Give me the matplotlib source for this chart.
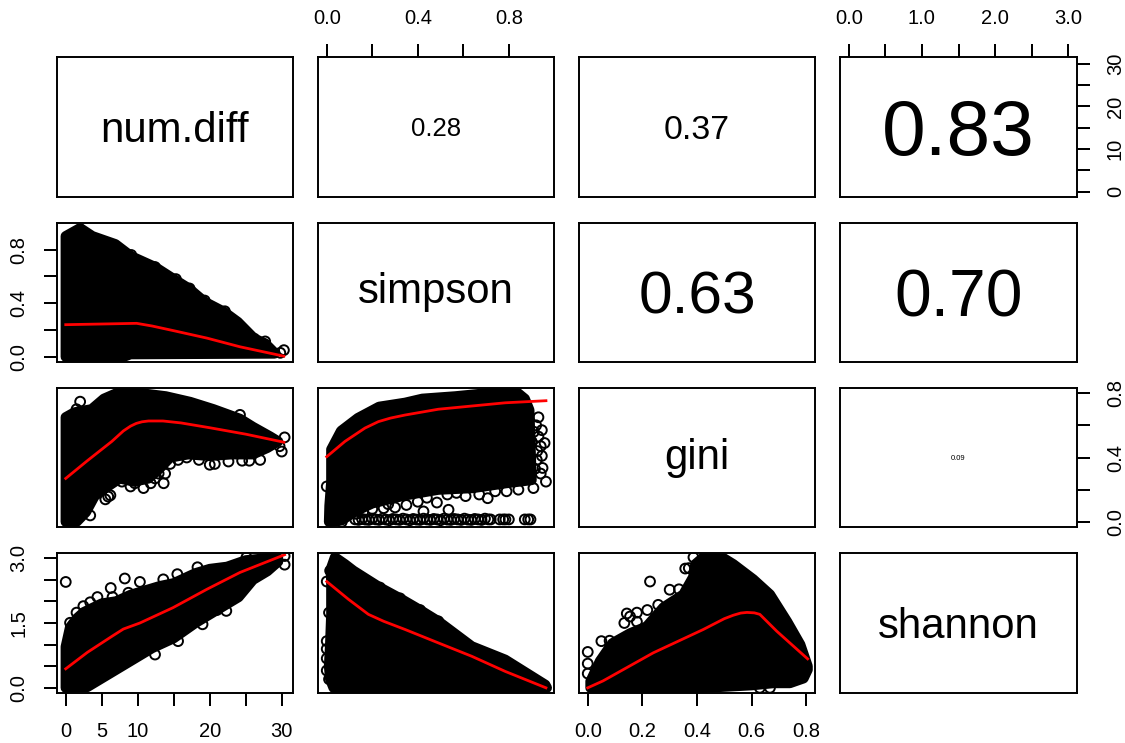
import matplotlib
matplotlib.use("Agg")
import matplotlib.pyplot as plt

plt.rcParams['font.family'] = ['Liberation Sans', 'DejaVu Sans']

W, H = 1125, 743
variables = ["num.diff", "simpson", "gini", "shannon"]
var_max = [30.35, 0.96, 0.80, 3.0]
label_sizes = [30.2, 30.2, 30.2, 30.2]
label_valign = ["center_baseline", "center", "center", "center_baseline"]

col_left = [57, 318, 579, 840]
col_right = [293, 554, 815, 1077]
row_top = [57, 223, 388, 553]
row_bottom = [197, 362, 527, 693]

corr_values = {(0, 1): "0.28", (0, 2): "0.37", (0, 3): "0.83",
               (1, 2): "0.63", (1, 3): "0.70", (2, 3): "0.09"}
corr_sizes = {(0, 1): 18.5, (0, 2): 24.4, (0, 3): 56.5,
              (1, 2): 43.5, (1, 3): 47.5, (2, 3): 5.5}

# simpson vs num.diff
sn_x = [0, 2, 3.7, 6.9, 9.1, 12.4, 15.3, 17.1, 19.3, 22, 23.9, 26.2, 27.7, 29, 29, 9, 8, 0]
sn_y = [0.90, 0.96, 0.90, 0.84, 0.75, 0.67, 0.57, 0.51, 0.41, 0.335, 0.26, 0.135, 0.10, 0.03, 0.025, 0.02, 0.0, 0.0]
sn_out_x = [0.4, 2.0, 9.1, 12.4, 15.3, 17.2, 19.3, 22.1, 26.2, 27.7, 30.3, 29.8]
sn_out_y = [0.88, 0.95, 0.76, 0.67, 0.58, 0.51, 0.42, 0.34, 0.135, 0.115, 0.05, 0.03]
sn_red_x = [0, 5, 9.85, 12, 15, 19.6, 24.2, 30.3]
sn_red_y = [0.24, 0.245, 0.25, 0.23, 0.195, 0.14, 0.075, 0.005]

# gini vs num.diff
gn_x = [0, 1.2, 3.6, 5.3, 7.1, 10.3, 13.9, 17.3, 20.5, 24.2, 26, 28.4, 29.5, 28, 26, 23, 20, 17, 14.5, 13, 11.5, 9.5, 7.5, 5.5, 4.0, 2.8, 1.5, 0]
gn_y = [0.65, 0.68, 0.70, 0.765, 0.80, 0.80, 0.78, 0.745, 0.70, 0.64, 0.59, 0.53, 0.50, 0.46, 0.42, 0.42, 0.41, 0.42, 0.40, 0.33, 0.27, 0.25, 0.27, 0.21, 0.16, 0.06, 0.0, 0.0]
gn_out_x = [5.9, 5.5, 6.2, 7.8, 9.6, 10.8, 11.8, 13.6, 13.8, 12.9, 15.6, 18.5, 20, 20.7, 22.6, 24.5, 25.5, 27, 30, 29.7, 30.4, 24.2, 2, 3.4, 1.5, 12.4, 9.0, 14.5, 16.8]
gn_out_y = [0.157, 0.14, 0.165, 0.25, 0.24, 0.21, 0.24, 0.24, 0.30, 0.30, 0.385, 0.385, 0.355, 0.36, 0.375, 0.38, 0.38, 0.385, 0.437, 0.47, 0.525, 0.665, 0.747, 0.04, 0.70, 0.27, 0.22, 0.36, 0.40]
gn_red_x = [0, 3, 6.4, 8, 9, 9.8, 10.6, 11.5, 13.5, 16, 20, 25, 30.3]
gn_red_y = [0.27, 0.38, 0.50, 0.565, 0.595, 0.612, 0.622, 0.627, 0.627, 0.615, 0.585, 0.545, 0.495]

# gini vs simpson
gs_x = [0.02, 0.063, 0.137, 0.23, 0.344, 0.42, 0.565, 0.71, 0.84, 0.87, 0.89, 0.90, 0.785, 0.64, 0.49, 0.345, 0.2, 0.125, 0.066, 0.01, 0.012, 0.02]
gs_y = [0.45, 0.565, 0.645, 0.715, 0.74, 0.765, 0.78, 0.80, 0.80, 0.765, 0.695, 0.26, 0.24, 0.21, 0.2, 0.165, 0.115, 0.065, 0.01, 0.0, 0.1, 0.25]
gs_out_x = [0.0, 0.93, 0.92, 0.945, 0.957, 0.94, 0.923, 0.948, 0.94, 0.963, 0.908, 0.842, 0.79, 0.74, 0.707, 0.67, 0.61, 0.57, 0.53, 0.484, 0.44, 0.40, 0.35, 0.30, 0.27, 0.25, 0.20, 0.16, 0.13, 0.066, 0.535, 0.425, 0.9, 0.91, 0.93, 0.915, 0.925, 0.945]
gs_out_y = [0.22, 0.65, 0.60, 0.57, 0.49, 0.47, 0.385, 0.335, 0.30, 0.25, 0.21, 0.20, 0.19, 0.19, 0.147, 0.17, 0.16, 0.18, 0.17, 0.12, 0.15, 0.125, 0.105, 0.09, 0.11, 0.085, 0.08, 0.06, 0.05, 0.0, 0.075, 0.065, 0.50, 0.56, 0.53, 0.33, 0.44, 0.41]
gs_row_x = [0.125, 0.14, 0.155, 0.17, 0.185, 0.2, 0.215, 0.23, 0.245, 0.26, 0.275, 0.29, 0.305, 0.32, 0.335, 0.35, 0.365, 0.38, 0.395, 0.41, 0.425, 0.44, 0.455, 0.47, 0.485, 0.5, 0.515, 0.53, 0.545, 0.56, 0.575, 0.59, 0.605, 0.62, 0.635, 0.65, 0.665, 0.68, 0.695, 0.71, 0.72, 0.76, 0.775, 0.785, 0.80, 0.87, 0.885, 0.895]
gs_row_y = [0.015, 0.012, 0.018, 0.014, 0.012, 0.02, 0.015, 0.012, 0.02, 0.014, 0.01, 0.018, 0.015, 0.012, 0.02, 0.015, 0.01, 0.018, 0.014, 0.012, 0.02, 0.015, 0.012, 0.018, 0.015, 0.01, 0.02, 0.014, 0.012, 0.018, 0.015, 0.012, 0.02, 0.014, 0.012, 0.018, 0.015, 0.012, 0.02, 0.015, 0.015, 0.015, 0.015, 0.015, 0.015, 0.015, 0.015, 0.015]
gs_red_x = [0, 0.08, 0.168, 0.227, 0.28, 0.344, 0.49, 0.637, 0.784, 0.963]
gs_red_y = [0.405, 0.50, 0.583, 0.623, 0.645, 0.664, 0.70, 0.72, 0.74, 0.753]

# shannon vs num.diff
hn_x = [0, 0.6, 1.5, 2.5, 5, 7, 9, 11, 13, 15, 18, 20, 22.4, 25, 28, 29.5, 29.5, 28, 26, 24, 21, 18, 15, 12, 10, 5.5, 3, 0]
hn_y = [0.95, 1.4, 1.6, 1.75, 1.95, 2.0, 2.15, 2.25, 2.35, 2.42, 2.65, 2.75, 2.8, 2.95, 3.0, 3.0, 2.92, 2.7, 2.5, 2.1, 1.8, 1.5, 1.15, 0.92, 0.72, 0.27, 0.02, 0]
hn_out_x = [0, 4.4, 3.4, 6.25, 6.5, 8.2, 8.7, 10.3, 13.55, 15.5, 18.3, 22.3, 21, 19, 15.6, 12.4, 0.6, 1.5, 2.45, 25.1, 28.5, 30.4, 30.4]
hn_out_y = [2.45, 2.10, 1.98, 2.31, 2.1, 2.53, 2.2, 2.45, 2.51, 2.63, 2.79, 1.78, 1.8, 1.47, 1.08, 0.77, 1.505, 1.74, 1.89, 3.02, 3.0, 3.05, 2.85]
hn_red_x = [0, 3, 6.4, 8, 10.3, 14.9, 19.6, 24.2, 30.4]
hn_red_y = [0.44, 0.82, 1.19, 1.36, 1.50, 1.855, 2.28, 2.67, 3.08]

# shannon vs simpson
hs_x = [0.036, 0.08, 0.117, 0.234, 0.322, 0.41, 0.49, 0.637, 0.784, 0.96, 0.967, 0.03, 0.015, 0.01, 0.015, 0.02, 0.02, 0.018]
hs_y = [3.02, 2.86, 2.71, 2.32, 2.07, 1.8, 1.54, 0.96, 0.65, 0.07, 0.0, 0.0, 0.2, 0.5, 1.0, 1.7, 2.4, 2.75]
hs_out_x = [0.0, 0.015, 0.01, 0.0, 0.0, 0.0, 0.0, 0.01, 0.234, 0.322, 0.41, 0.49]
hs_out_y = [2.46, 2.71, 1.74, 1.08, 0.90, 0.68, 0.40, 0.2, 2.32, 2.07, 1.8, 1.54]
hs_red_x = [0, 0.095, 0.183, 0.25, 0.344, 0.49, 0.637, 0.784, 0.963]
hs_red_y = [2.46, 2.05, 1.70, 1.54, 1.35, 1.04, 0.73, 0.38, 0.0]

# shannon vs gini
hg_x = [0.01, 0.045, 0.09, 0.155, 0.216, 0.277, 0.35, 0.386, 0.394, 0.423, 0.497, 0.533, 0.606, 0.667, 0.73, 0.778, 0.805, 0.805, 0.79, 0.74, 0.68, 0.6, 0.42, 0.18, 0.01]
hg_y = [0.15, 0.62, 1.03, 1.26, 1.42, 1.86, 2.16, 2.56, 2.86, 3.02, 3.0, 2.86, 2.51, 2.16, 1.53, 1.0, 0.5, 0.42, 0.22, 0.11, 0.11, 0.06, 0.0, 0.0, 0.0]
hg_out_x = [0, 0, 0, 0.05, 0.08, 0.134, 0.143, 0.18, 0.18, 0.155, 0.218, 0.258, 0.228, 0.30, 0.334, 0.357, 0.37, 0.387, 0.08, 0.106, 0.136, 0.667, 0.63]
hg_out_y = [0.83, 0.56, 0.33, 1.08, 1.09, 1.5, 1.72, 1.74, 1.53, 1.65, 1.8, 1.92, 2.46, 2.27, 2.28, 2.76, 2.77, 3.02, 0.03, 0.03, 0.03, 0.0, 0.0]
hg_red_x = [0, 0.056, 0.24, 0.423, 0.50, 0.533, 0.56, 0.583, 0.61, 0.63, 0.692, 0.805]
hg_red_y = [0, 0.16, 0.81, 1.35, 1.60, 1.68, 1.73, 1.745, 1.735, 1.70, 1.31, 0.67]

lower_panels = {
    (1, 0): (sn_x, sn_y, sn_out_x, sn_out_y, sn_red_x, sn_red_y),
    (2, 0): (gn_x, gn_y, gn_out_x, gn_out_y, gn_red_x, gn_red_y),
    (2, 1): (gs_x, gs_y, gs_out_x + gs_row_x, gs_out_y + gs_row_y, gs_red_x, gs_red_y),
    (3, 0): (hn_x, hn_y, hn_out_x, hn_out_y, hn_red_x, hn_red_y),
    (3, 1): (hs_x, hs_y, hs_out_x, hs_out_y, hs_red_x, hs_red_y),
    (3, 2): (hg_x, hg_y, hg_out_x, hg_out_y, hg_red_x, hg_red_y),
}

ticks_nd = [0, 5, 10, 15, 20, 25, 30]
ticks_sg = [0.0, 0.2, 0.4, 0.6, 0.8]
ticks_sh = [0.0, 0.5, 1.0, 1.5, 2.0, 2.5, 3.0]

bottom_axes = {
    0: (ticks_nd, ["0", "5", "10", "", "20", "", "30"]),
    2: (ticks_sg, ["0.0", "0.2", "0.4", "0.6", "0.8"]),
}
top_axes = {
    1: (ticks_sg, ["0.0", "", "0.4", "", "0.8"]),
    3: (ticks_sh, ["0.0", "", "1.0", "", "2.0", "", "3.0"]),
}
left_axes = {
    1: (ticks_sg, ["0.0", "", "0.4", "", "0.8"]),
    3: (ticks_sh, ["0.0", "", "", "1.5", "", "", "3.0"]),
}
right_axes = {
    0: (ticks_nd, ["0", "", "10", "", "20", "", "30"]),
    2: (ticks_sg, ["0.0", "", "0.4", "", "0.8"]),
}

PX = 72 / 100
fig = plt.figure(figsize=(W / 100, H / 100), dpi=100)
TICK_LEN = 13 * PX
TICK_W = 2 * PX
PAD = 16 * PX
FS = 14.5

for r in range(4):
    for c in range(4):
        ax = fig.add_axes([col_left[c] / W, 1 - row_bottom[r] / H,
                           (col_right[c] - col_left[c]) / W,
                           (row_bottom[r] - row_top[r]) / H])
        xpad = var_max[c] * 0.04
        ypad = var_max[r] * 0.04
        ax.set_xlim(-xpad, var_max[c] + xpad)
        ax.set_ylim(-ypad, var_max[r] + ypad)
        for s in ax.spines.values():
            s.set_linewidth(1.4)
            s.set_zorder(5)
        ax.set_xticks([])
        ax.set_yticks([])

        if r == c:
            ax.text(0.5, 0.5, variables[r], transform=ax.transAxes, ha="center",
                    va=label_valign[r], fontsize=label_sizes[r])
        elif r < c:
            ax.text(0.5, 0.5, corr_values[(r, c)], transform=ax.transAxes, ha="center",
                    va="center_baseline", fontsize=corr_sizes[(r, c)])
        else:
            px, py, ox, oy, rx, ry = lower_panels[(r, c)]
            ax.fill(px, py, facecolor="black", edgecolor="black", linewidth=7.4,
                    joinstyle="round", zorder=2)
            ax.scatter(ox, oy, s=50, facecolors="none", edgecolors="black",
                       linewidths=1.4, zorder=3)
            ax.plot(rx, ry, color="#ff0000", linewidth=2.0, zorder=4,
                    solid_joinstyle="round")

        if r == 3 and c in bottom_axes:
            t, l = bottom_axes[c]
            ax.set_xticks(t, l)
            ax.tick_params(axis="x", bottom=True, labelbottom=True, length=TICK_LEN,
                           width=TICK_W, pad=PAD, labelsize=FS)
        if r == 0 and c in top_axes:
            t, l = top_axes[c]
            ax.set_xticks(t, l)
            ax.tick_params(axis="x", top=True, labeltop=True, bottom=False,
                           labelbottom=False, length=TICK_LEN, width=TICK_W,
                           pad=PAD, labelsize=FS)
        if c == 0 and r in left_axes:
            t, l = left_axes[r]
            ax.set_yticks(t, l)
            ax.tick_params(axis="y", left=True, labelleft=True, length=TICK_LEN,
                           width=TICK_W, pad=PAD, labelsize=FS, labelrotation=90)
            for lab in ax.get_yticklabels():
                lab.set_va("center")
        if c == 3 and r in right_axes:
            t, l = right_axes[r]
            ax.set_yticks(t, l)
            ax.tick_params(axis="y", right=True, labelright=True, left=False,
                           labelleft=False, length=TICK_LEN, width=TICK_W,
                           pad=PAD, labelsize=FS, labelrotation=90)
            for lab in ax.get_yticklabels():
                lab.set_va("center")

fig.savefig("out.png", dpi=100)
